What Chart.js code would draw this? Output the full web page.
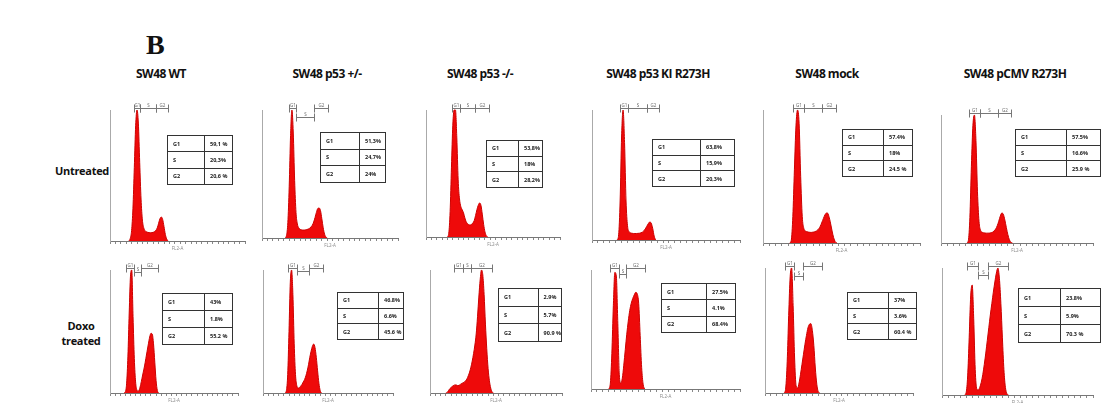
<!DOCTYPE html>
<html>
<head>
<meta charset="utf-8">
<script src="https://cdn.jsdelivr.net/npm/chart.js@4/dist/chart.umd.min.js"></script>
<style>
  body { margin:0; background:#fff; width:1103px; height:403px; position:relative; overflow:hidden; font-family:"Open Sans", sans-serif; color:#111; }
  .abs { position:absolute; }
  .letter { left:146px; top:29px; font:bold 28px "Liberation Serif", serif; }
  .title { top:65px; font-weight:700; font-size:12px; letter-spacing:-0.5px; transform:translateX(-50%); white-space:nowrap; }
  .rowlab { font-weight:700; font-size:11px; letter-spacing:-0.3px; text-align:center; line-height:15px; transform:translate(-50%,-50%); white-space:nowrap; }
  table.gate { position:absolute; border-collapse:collapse; font:bold 5.5px "Open Sans", sans-serif; color:#1a1a1a; }
  table.gate td { border:1px solid #333; padding:0 0 0 5px; text-align:left; white-space:nowrap; }
</style>
</head>
<body>
<div class="abs letter">B</div>
<script>
// column and row headings
const panelTitles = ['SW48 WT', 'SW48 p53 +/-', 'SW48 p53 -/-', 'SW48 p53 KI R273H', 'SW48 mock', 'SW48 pCMV R273H'];
const rowLabels = ['Untreated', 'Doxo<br>treated'];

// cell-cycle phase percentages, untreated panels first, then doxo treated
const phases = ['G1', 'S', 'G2'];
const pctG1 = ['59,1 %', '51,3%', '53,8%', '63,8%', '57.4%', '57.5%', '43%', '46.8%', '2.9%', '27.5%', '37%', '23.8%'];
const pctS = ['20,3%', '24,7%', '18%', '15,9%', '18%', '16.6%', '1.8%', '6.6%', '5.7%', '4.1%', '3.6%', '5.9%'];
const pctG2 = ['20,6 %', '24%', '28,2%', '20,3%', '24.5 %', '25.9 %', '55.2 %', '45.6 %', '90.9 %', '68.4%', '60.4 %', '70.3 %'];

// DNA content histograms (FL2-A), counts every 10 channels from the start channel
const CH_STEP = 10;
const histStart = [140, 170, 160, 170, 170, 170, 110, 170, 120, 120, 130, 150];
const untreatedWT = [0, 20, 80, 250, 560, 880, 1000, 900, 600, 320, 160, 100, 78, 70, 66, 64, 63, 64, 66, 72, 82, 100, 135, 170, 183, 165, 110, 50, 15, 0];
const untreatedHet = [0, 20, 120, 400, 800, 1000, 820, 450, 200, 110, 80, 68, 64, 62, 62, 64, 66, 70, 76, 86, 100, 125, 160, 200, 230, 234, 215, 150, 80, 30, 8, 0];
const untreatedNull = [0, 30, 200, 550, 880, 1000, 1000, 780, 450, 300, 240, 215, 190, 150, 120, 105, 97, 95, 100, 110, 130, 170, 215, 250, 268, 250, 180, 100, 40, 10, 0];
const untreatedKI = [0, 40, 300, 800, 1000, 750, 300, 110, 65, 55, 52, 50, 50, 50, 51, 52, 55, 60, 70, 85, 105, 125, 138, 130, 90, 30, 0];
const untreatedMock = [0, 20, 200, 550, 880, 1000, 900, 500, 200, 110, 90, 85, 82, 80, 80, 82, 85, 90, 100, 115, 140, 170, 200, 222, 226, 200, 150, 90, 40, 10, 0];
const untreatedCMV = [0, 20, 200, 600, 920, 1000, 800, 400, 170, 100, 85, 80, 78, 77, 77, 78, 80, 85, 95, 110, 135, 170, 210, 234, 225, 180, 120, 65, 25, 5, 0];
const doxoWT = [0, 10, 80, 300, 650, 950, 1000, 620, 280, 90, 25, 15, 30, 70, 120, 170, 220, 280, 340, 400, 455, 485, 480, 400, 250, 100, 20, 0];
const doxoHet = [0, 20, 150, 500, 900, 1000, 800, 400, 150, 60, 40, 45, 55, 70, 90, 110, 140, 180, 230, 290, 340, 380, 398, 370, 290, 180, 80, 20, 0];
const doxoNull = [0, 5, 20, 35, 45, 55, 62, 66, 65, 60, 62, 70, 78, 82, 88, 100, 115, 140, 170, 210, 260, 320, 390, 480, 620, 780, 920, 1000, 960, 800, 560, 360, 200, 100, 40, 10, 0];
const doxoKI = [0, 50, 300, 700, 980, 950, 550, 120, 50, 90, 200, 330, 460, 570, 660, 720, 760, 790, 812, 800, 720, 450, 180, 40, 0];
const doxoMock = [0, 40, 250, 620, 930, 1000, 700, 280, 60, 40, 80, 150, 230, 310, 390, 460, 520, 550, 555, 500, 380, 200, 70, 10, 0];
const doxoCMV = [0, 20, 150, 450, 780, 866, 600, 200, 50, 40, 60, 100, 160, 240, 330, 430, 530, 630, 720, 810, 890, 960, 1000, 920, 720, 450, 200, 60, 10, 0];
const histCounts = [untreatedWT, untreatedHet, untreatedNull, untreatedKI, untreatedMock, untreatedCMV,
                    doxoWT, doxoHet, doxoNull, doxoKI, doxoMock, doxoCMV];

// marker gates in channels [from, to]
const gateG1 = [[175, 224], [201, 250], [197, 254], [186, 244], [194, 261], [187, 256],
                [125, 184], [196, 261], [179, 250], [127, 185], [135, 199], [164, 239]];
const gateS = [[224, 343], [250, 382], [254, 366], [244, 372], [261, 376], [256, 375],
               [184, 243], [261, 355], [250, 307], [185, 236], [199, 256], [239, 302]];
const gateG2 = [[343, 427], [382, 486], [366, 472], [372, 455], [376, 467], [375, 462],
                [243, 375], [355, 464], [307, 471], [236, 363], [256, 385], [302, 434]];

// plot frames: chart area edges in page pixels, table box [x, y, w, h, first column width]
const frames = [
  { L: 102, R: 245, T: 110, B: 241, sDrop: 0, tbl: [167, 135, 66, 50, 31] },
  { L: 254, R: 398, T: 110, B: 238, sDrop: 9, tbl: [320, 132, 66, 51, 33] },
  { L: 418, R: 560, T: 110, B: 237, sDrop: 0, tbl: [486, 140, 57, 48, 26] },
  { L: 584, R: 740, T: 110, B: 240, sDrop: 0, tbl: [652, 139, 83, 48, 42] },
  { L: 755, R: 920, T: 110, B: 243, sDrop: 0, tbl: [842, 129, 71, 48, 35] },
  { L: 933, R: 1093, T: 115, B: 243, sDrop: 0, tbl: [1015, 129, 86, 48, 45] },
  { L: 102, R: 238, T: 270, B: 393, sDrop: 4, tbl: [162, 293, 71, 52, 36] },
  { L: 255, R: 393, T: 270, B: 393, sDrop: 3, tbl: [337, 292, 67, 48, 35] },
  { L: 422, R: 562, T: 270, B: 393, sDrop: 0, tbl: [498, 288, 64, 54, 34] },
  { L: 583, R: 740, T: 270, B: 389, sDrop: 6, tbl: [661, 283, 75, 50, 39] },
  { L: 757, R: 913, T: 268, B: 393, sDrop: 10, tbl: [847, 292, 70, 48, 35] },
  { L: 934, R: 1093, T: 268, B: 395, sDrop: 9, tbl: [1018, 288, 83, 55, 36] }
];
const titleX = [161, 327, 480, 658, 827, 1015];
const PAD = { l: 12, r: 4, t: 14, b: 10 };
const TICK = 3;

function addDiv(cls, html, x, y) {
  const d = document.createElement('div');
  d.className = 'abs ' + cls;
  d.innerHTML = html;
  d.style.left = x + 'px';
  if (y !== null) d.style.top = y + 'px';
  document.body.appendChild(d);
  return d;
}

panelTitles.forEach((t, i) => addDiv('title', t, titleX[i], null));
addDiv('rowlab', rowLabels[0], 82, 170);
addDiv('rowlab', rowLabels[1], 81, 333);

// G1 / S / G2 gate brackets plus the axis caption
const gatePlugin = {
  id: 'gates',
  afterDatasetsDraw(chart, args, opts) {
    const { ctx, chartArea } = chart;
    const xs = chart.scales.x;
    const i = opts.index;
    const base = chartArea.top - 2;
    ctx.save();
    ctx.strokeStyle = '#777';
    ctx.fillStyle = '#666';
    ctx.lineWidth = 1;
    ctx.font = '4.5px "Open Sans"';
    ctx.textAlign = 'center';
    [[phases[0], gateG1[i], 0], [phases[1], gateS[i], frames[i].sDrop], [phases[2], gateG2[i], 0]].forEach(([lab, g, drop]) => {
      const a = Math.round(xs.getPixelForValue(g[0])) + 0.5;
      const b = Math.round(xs.getPixelForValue(g[1])) + 0.5;
      const y = Math.round(base + drop) + 0.5;
      ctx.beginPath();
      ctx.moveTo(a, y); ctx.lineTo(b, y);
      ctx.moveTo(a, y - 4); ctx.lineTo(a, y + 4);
      ctx.moveTo(b, y - 4); ctx.lineTo(b, y + 4);
      ctx.stroke();
      ctx.fillText(lab, (a + b) / 2, y - 1.5);
    });
    ctx.fillStyle = '#888';
    ctx.fillText('FL2-A', (chartArea.left + chartArea.right) / 2, chartArea.bottom + 9);
    ctx.restore();
  }
};

function makeTable(i) {
  const [x, y, w, h, c1] = frames[i].tbl;
  const tb = document.createElement('table');
  tb.className = 'gate';
  tb.style.left = x + 'px';
  tb.style.top = y + 'px';
  tb.style.width = w + 'px';
  tb.style.height = h + 'px';
  const vals = [pctG1[i], pctS[i], pctG2[i]];
  tb.innerHTML = phases.map((p, k) =>
    `<tr><td style="width:${c1}px">${p}</td><td>${vals[k]}</td></tr>`).join('');
  document.body.appendChild(tb);
}

function makeChart(i) {
  const f = frames[i];
  const w = f.R - f.L + PAD.l + PAD.r;
  const h = f.B - f.T + PAD.t + PAD.b;
  const wrap = document.createElement('div');
  wrap.className = 'abs';
  wrap.style.left = (f.L - PAD.l) + 'px';
  wrap.style.top = (f.T - PAD.t) + 'px';
  const cv = document.createElement('canvas');
  cv.width = w;
  cv.height = h;
  wrap.appendChild(cv);
  document.body.appendChild(wrap);

  const pts = histCounts[i].map((c, k) => ({ x: histStart[i] + k * CH_STEP, y: c }));
  new Chart(cv, {
    type: 'line',
    data: {
      datasets: [{
        data: pts,
        borderColor: '#cc0000',
        borderWidth: 1,
        backgroundColor: '#ee0a0a',
        fill: 'origin',
        pointRadius: 0,
        cubicInterpolationMode: 'monotone',
        clip: false
      }]
    },
    options: {
      responsive: false,
      animation: false,
      events: [],
      layout: { padding: { left: PAD.l, right: PAD.r, top: PAD.t, bottom: PAD.b - TICK } },
      plugins: { legend: { display: false }, tooltip: { enabled: false }, gates: { index: i } },
      scales: {
        x: {
          type: 'linear', min: 0, max: 1000,
          ticks: { display: false, stepSize: 40 },
          grid: { display: true, drawOnChartArea: false, drawTicks: true, tickLength: TICK, color: '#888' },
          border: { display: true, color: '#777', width: 1 }
        },
        y: {
          min: 0, max: 1000,
          ticks: { display: false },
          grid: { display: false },
          border: { display: true, color: '#aaa', width: 1 }
        }
      }
    },
    plugins: [gatePlugin]
  });
}

for (let i = 0; i < 12; i++) {
  makeChart(i);
  makeTable(i);
}
</script>
</body>
</html>
